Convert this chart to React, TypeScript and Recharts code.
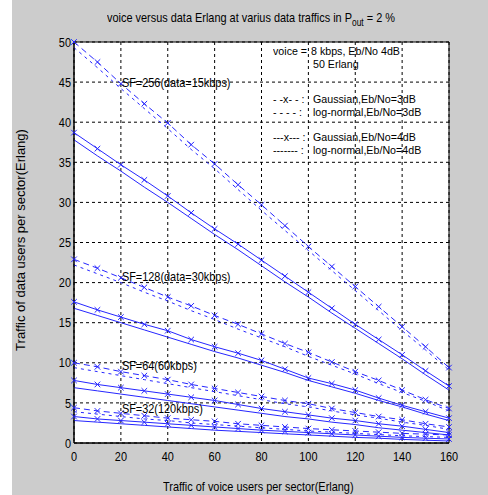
import React from 'react';
import { LineChart, Line, XAxis, YAxis, CartesianGrid, ReferenceArea, ReferenceDot } from 'recharts';

// Traffic of voice users per sector (Erlang)
const VOICE_TRAFFIC = [0, 10, 20, 30, 40, 50, 60, 70, 80, 90, 100, 110, 120, 130, 140, 150, 160];
const X_TICKS = [0, 20, 40, 60, 80, 100, 120, 140, 160];
const Y_TICKS = [0, 5, 10, 15, 20, 25, 30, 35, 40, 45, 50];

// SF=256 (data = 15 kbps)
const SF256_GAUSS_3DB = [50, 47.5, 44.8, 42.3, 39.9, 37.2, 34.8, 32.2, 29.7, 27.1, 24.5, 22.0, 19.5, 17.0, 14.5, 12.0, 9.4];
const SF256_LOGN_3DB = [49.3, 46.8, 44.2, 41.7, 39.2, 36.6, 34.2, 31.6, 29.0, 26.5, 24.0, 21.5, 19.0, 16.5, 14.0, 11.6, 9.1];
const SF256_GAUSS_4DB = [38.7, 36.7, 34.7, 32.8, 30.8, 28.7, 26.7, 24.8, 22.8, 20.8, 18.8, 16.8, 14.8, 12.9, 11.0, 9.0, 7.1];
const SF256_LOGN_4DB = [37.8, 35.8, 33.9, 31.9, 30.0, 28.0, 26.0, 24.1, 22.1, 20.1, 18.2, 16.2, 14.3, 12.4, 10.5, 8.5, 6.6];

// SF=128 (data = 30 kbps)
const SF128_GAUSS_3DB = [22.9, 21.8, 20.6, 19.4, 18.2, 17.1, 15.9, 14.8, 13.6, 12.4, 11.3, 10.1, 8.9, 7.8, 6.6, 5.4, 4.3];
const SF128_LOGN_3DB = [22.2, 21.1, 20.0, 18.8, 17.7, 16.5, 15.4, 14.2, 13.1, 12.0, 10.8, 9.7, 8.6, 7.4, 6.3, 5.2, 4.0];
const SF128_GAUSS_4DB = [17.6, 16.6, 15.7, 14.8, 14.0, 12.9, 12.0, 11.2, 10.3, 9.2, 8.1, 7.4, 6.6, 5.6, 4.7, 3.9, 3.1];
const SF128_LOGN_4DB = [16.8, 15.9, 15.0, 14.1, 13.2, 12.3, 11.4, 10.6, 9.7, 8.8, 7.8, 7.0, 6.2, 5.3, 4.5, 3.6, 2.8];

// SF=64 (60 kbps)
const SF64_GAUSS_3DB = [10.0, 9.5, 8.9, 8.4, 7.9, 7.3, 6.8, 6.3, 5.8, 5.3, 4.9, 4.3, 3.8, 3.3, 2.9, 2.4, 2.0];
const SF64_LOGN_3DB = [9.4, 8.9, 8.4, 7.9, 7.4, 6.9, 6.4, 5.9, 5.4, 4.9, 4.5, 4.0, 3.5, 3.1, 2.6, 2.2, 1.7];
const SF64_GAUSS_4DB = [7.8, 7.3, 6.9, 6.5, 6.1, 5.7, 5.3, 4.8, 4.3, 3.9, 3.5, 3.1, 2.8, 2.4, 2.1, 1.7, 1.3];
const SF64_LOGN_4DB = [6.9, 6.5, 6.1, 5.7, 5.3, 4.9, 4.5, 4.1, 3.7, 3.3, 3.0, 2.6, 2.3, 1.9, 1.6, 1.3, 1.0];

// SF=32 (120 kbps)
const SF32_GAUSS_3DB = [4.4, 4.0, 3.7, 3.4, 3.1, 2.9, 2.7, 2.4, 2.2, 2.0, 1.8, 1.65, 1.5, 1.35, 1.2, 1.1, 1.0];
const SF32_LOGN_3DB = [3.9, 3.6, 3.3, 3.0, 2.8, 2.5, 2.3, 2.1, 1.9, 1.7, 1.5, 1.35, 1.2, 1.05, 0.9, 0.8, 0.7];
const SF32_GAUSS_4DB = [3.3, 3.0, 2.8, 2.6, 2.4, 2.2, 2.0, 1.8, 1.6, 1.45, 1.3, 1.15, 1.0, 0.85, 0.7, 0.6, 0.5];
const SF32_LOGN_4DB = [2.8, 2.6, 2.4, 2.2, 2.0, 1.8, 1.6, 1.45, 1.3, 1.15, 1.0, 0.85, 0.7, 0.6, 0.45, 0.35, 0.25];

const SF_LABELS = [
  { text: 'SF=256(data=15kbps)', y: 45 },
  { text: 'SF=128(data=30kbps)', y: 20.8 },
  { text: 'SF=64(60kbps)', y: 9.7 },
  { text: 'SF=32(120kbps)', y: 4.3 },
];

const SERIES = [
  { key: 's256g3', values: SF256_GAUSS_3DB, kind: 'g3' },
  { key: 's256l3', values: SF256_LOGN_3DB, kind: 'l3' },
  { key: 's256g4', values: SF256_GAUSS_4DB, kind: 'g4' },
  { key: 's256l4', values: SF256_LOGN_4DB, kind: 'l4' },
  { key: 's128g3', values: SF128_GAUSS_3DB, kind: 'g3' },
  { key: 's128l3', values: SF128_LOGN_3DB, kind: 'l3' },
  { key: 's128g4', values: SF128_GAUSS_4DB, kind: 'g4' },
  { key: 's128l4', values: SF128_LOGN_4DB, kind: 'l4' },
  { key: 's64g3', values: SF64_GAUSS_3DB, kind: 'g3' },
  { key: 's64l3', values: SF64_LOGN_3DB, kind: 'l3' },
  { key: 's64g4', values: SF64_GAUSS_4DB, kind: 'g4' },
  { key: 's64l4', values: SF64_LOGN_4DB, kind: 'l4' },
  { key: 's32g3', values: SF32_GAUSS_3DB, kind: 'g3' },
  { key: 's32l3', values: SF32_LOGN_3DB, kind: 'l3' },
  { key: 's32g4', values: SF32_GAUSS_4DB, kind: 'g4' },
  { key: 's32l4', values: SF32_LOGN_4DB, kind: 'l4' },
];

const data = VOICE_TRAFFIC.map((v, i) => {
  const row: Record<string, number> = { voice: v };
  SERIES.forEach((s) => {
    row[s.key] = s.values[i];
  });
  return row;
});

const BLUE = '#2626ff';
const FONT = '"Liberation Sans", Arial, sans-serif';
const SX = 0.84;

const XMarker = (props: any) => {
  const { cx, cy, index } = props;
  if (cx == null || cy == null) return <g key={`m-${index}`} />;
  const r = 2.8;
  return (
    <path
      key={`m-${index}`}
      d={`M${cx - r},${cy - r}L${cx + r},${cy + r}M${cx - r},${cy + r}L${cx + r},${cy - r}`}
      stroke={BLUE}
      strokeWidth={1}
      fill="none"
    />
  );
};

const XTick = (props: any) => {
  const { x, y, payload } = props;
  return (
    <text
      transform={`translate(${x},${y}) scale(${SX},1)`}
      textAnchor="middle"
      dy="0.71em"
      fontSize={13}
      fontFamily={FONT}
      fill="#000"
    >
      {payload.value}
    </text>
  );
};

const YTick = (props: any) => {
  const { x, y, payload } = props;
  return (
    <text
      transform={`translate(${x},${y}) scale(${SX},1)`}
      textAnchor="end"
      dy="0.355em"
      fontSize={13}
      fontFamily={FONT}
      fill="#000"
    >
      {payload.value}
    </text>
  );
};

const makeSfLabel = (text: string) => (props: any) => {
  const vb = props.viewBox || {};
  const x = (vb.x ?? 0) + (vb.width ?? 0) / 2 + 1;
  const y = (vb.y ?? 0) + (vb.height ?? 0) / 2;
  return (
    <text
      transform={`translate(${x},${y}) scale(${SX},1)`}
      textAnchor="start"
      dy="0.355em"
      fontSize={13}
      fontFamily={FONT}
      fill="#000"
    >
      {text}
    </text>
  );
};

const styleFor = (kind: string) => {
  switch (kind) {
    case 'g3':
      return { dash: '6 4', marker: true };
    case 'l3':
      return { dash: '3 4', marker: false };
    case 'g4':
      return { dash: undefined, marker: true };
    default:
      return { dash: undefined, marker: false };
  }
};

const txt: React.CSSProperties = {
  position: 'absolute',
  fontFamily: FONT,
  fontSize: 13,
  color: '#000',
  whiteSpace: 'pre',
  lineHeight: '13px',
  transform: `scaleX(${SX})`,
  transformOrigin: 'left center',
};

const leg: React.CSSProperties = {
  ...txt,
  fontSize: 11,
  lineHeight: '12px',
  transform: 'scaleX(0.97)',
};

export default function App() {
  return (
    <div style={{ position: 'relative', width: 488, height: 495, background: '#fff', overflow: 'hidden' }}>
      <style>{`body{margin:0}`}</style>
      <div style={{ position: 'absolute', left: 12, top: 0, width: 476, height: 495, background: '#cccccc' }} />
      <div style={{ position: 'absolute', left: 0, top: 0 }}>
        <LineChart width={488} height={495} data={data} margin={{ top: 42, right: 39, bottom: 0, left: 0 }}>
          <CartesianGrid stroke="#000" strokeDasharray="3 3" fill="#ffffff" fillOpacity={1} />
          <XAxis
            dataKey="voice"
            type="number"
            domain={[0, 160]}
            ticks={X_TICKS}
            height={52}
            tickLine={false}
            tickSize={4}
            tickMargin={5}
            axisLine={{ stroke: '#000' }}
            tick={XTick}
            interval={0}
          />
          <YAxis
            type="number"
            domain={[0, 50]}
            ticks={Y_TICKS}
            width={74}
            tickLine={false}
            tickSize={3}
            tickMargin={0}
            axisLine={{ stroke: '#000' }}
            tick={YTick}
            interval={0}
          />
          {SERIES.map((s) => {
            const st = styleFor(s.kind);
            return (
              <Line
                key={s.key}
                dataKey={s.key}
                type="linear"
                stroke={BLUE}
                strokeWidth={1}
                strokeDasharray={st.dash}
                dot={st.marker ? XMarker : false}
                activeDot={false}
                isAnimationActive={false}
              />
            );
          })}
          {SF_LABELS.map((l) => (
            <ReferenceDot
              key={l.text}
              x={20}
              y={l.y}
              r={0}
              fill="none"
              stroke="none"
              label={{ content: makeSfLabel(l.text) }}
            />
          ))}
          <ReferenceArea x1={0} x2={160} y1={0} y2={50} fill="none" fillOpacity={0} stroke="#000" strokeWidth={1} />
        </LineChart>
      </div>

      {/* title */}
      <div style={{ ...txt, left: 107, top: 11 }}>
        voice versus data Erlang at varius data traffics in P<sub style={{ fontSize: 10, verticalAlign: -4, lineHeight: 0 }}>out</sub> = 2 %
      </div>

      {/* legend text inside plot */}
      <div style={{ ...leg, left: 273, top: 45 }}>voice =</div>
      <div style={{ ...leg, left: 311, top: 45 }}>8 kbps, Eb/No 4dB</div>
      <div style={{ ...leg, left: 313, top: 58 }}>50 Erlang</div>
      <div style={{ ...leg, left: 273, top: 93 }}>- -x- - :</div>
      <div style={{ ...leg, left: 313, top: 93 }}>Gaussian,Eb/No=3dB</div>
      <div style={{ ...leg, left: 273, top: 106 }}>- - - - :</div>
      <div style={{ ...leg, left: 313, top: 106 }}>log-normal,Eb/No=3dB</div>
      <div style={{ ...leg, left: 273, top: 131 }}>---x--- :</div>
      <div style={{ ...leg, left: 313, top: 131 }}>Gaussian,Eb/No=4dB</div>
      <div style={{ ...leg, left: 273, top: 144 }}>------- :</div>
      <div style={{ ...leg, left: 313, top: 144 }}>log-normal,Eb/No=4dB</div>

      {/* axis titles */}
      <div style={{ ...txt, left: 163, top: 480 }}>
        Traffic of voice users per sector(Erlang)
      </div>
      <div
        style={{
          ...txt,
          left: 20,
          top: 240,
          transformOrigin: 'center center',
          transform: 'translate(-50%, -50%) rotate(-90deg)',
        }}
      >
        Traffic of data users per sector(Erlang)
      </div>
    </div>
  );
}
